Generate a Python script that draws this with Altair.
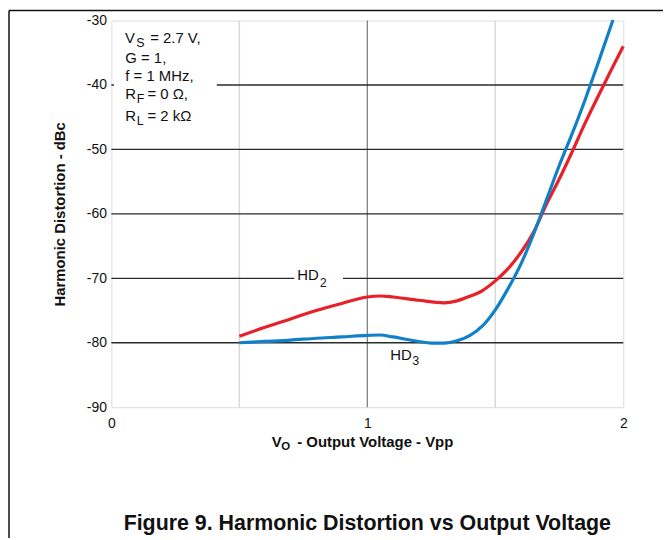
import altair as alt
import pandas as pd

# ---- data ----
hd2_x = [0.5, 0.6, 0.7, 0.8, 0.9, 1.0, 1.05, 1.1, 1.2, 1.3, 1.35, 1.4, 1.45, 1.5,
         1.55, 1.6, 1.65, 1.7, 1.75, 1.8, 1.85, 1.9, 1.95, 2.0]
hd2_y = [-79.0, -77.6, -76.3, -75.0, -73.9, -72.9, -72.75, -72.9, -73.4, -73.8, -73.5,
         -72.8, -71.9, -70.4, -68.5, -66.0, -62.8, -58.5, -54.6, -50.4, -46.0, -41.9,
         -37.9, -34.0]
hd3_x = [0.5, 0.6, 0.7, 0.8, 0.9, 1.0, 1.05, 1.1, 1.2, 1.25, 1.3, 1.35, 1.4, 1.45,
         1.5, 1.55, 1.6, 1.65, 1.7, 1.75, 1.8, 1.85, 1.9, 1.96]
hd3_y = [-80.0, -79.8, -79.6, -79.3, -79.1, -78.85, -78.8, -79.1, -79.8, -80.05, -80.05,
         -79.7, -78.9, -77.4, -74.9, -71.6, -67.8, -63.1, -57.8, -52.5, -47.6, -42.4,
         -36.8, -29.9]

y_ticks = [-90, -80, -70, -60, -50, -40, -30]
x_ticks = [0, 1, 2]
h_grid = [-40, -50, -60, -70, -80]
v_grid_light = [0.5, 1.5]
v_grid_dark = [1.0]

# text annotations (data coordinates)
ann_text = ["V", "S", "= 2.7 V,", "G = 1,", "f = 1 MHz,", "R", "F", "= 0 \u03a9,",
            "R", "L", "= 2 k\u03a9",
            "HD", "2", "HD", "3",
            "V", "O", "- Output Voltage - Vpp",
            "Figure 9. Harmonic Distortion vs Output Voltage"]
ann_x = [0.0532, 0.0975, 0.1515, 0.0544, 0.0544, 0.0544, 0.0990, 0.1410,
         0.0544, 0.0990, 0.1410,
         0.7262, 0.8155, 1.0901, 1.1767,
         0.6264, 0.6641, 0.7262,
         1.0]
ann_y = [-32.73, -33.45, -32.73, -35.82, -38.64, -41.46, -42.19, -41.46,
         -44.81, -45.59, -44.81,
         -69.49, -70.72, -81.90, -82.86,
         -95.40, -96.17, -95.40,
         -108.2]
ann_size = [15, 12.5, 15, 15, 15, 15, 12.5, 15, 15, 12.5, 15,
            15, 12, 15, 12,
            15, 11.5, 15,
            21.5]
ann_kind = ["n"] * 15 + ["b", "b", "b", "c"]

FONT = "Liberation Sans"
RED = "#E8202A"
BLUE = "#1080C8"

curves = pd.concat([
    pd.DataFrame({"v": hd2_x, "d": hd2_y, "s": "HD2"}),
    pd.DataFrame({"v": hd3_x, "d": hd3_y, "s": "HD3"}),
])
ann = pd.DataFrame({"t": ann_text, "x": ann_x, "y": ann_y, "size": ann_size,
                    "k": ann_kind})

xs = alt.Scale(domain=[0, 2], nice=False, zero=False)
ys = alt.Scale(domain=[-90, -30], nice=False, zero=False)

base_x = alt.X("v:Q", scale=xs,
               axis=alt.Axis(values=x_ticks, title=None, grid=False, ticks=False,
                             domain=False, labelFontSize=14, labelFont=FONT,
                             labelColor="#111", labelPadding=9, labelFlush=False,
                             labelExpr="'' + datum.value"))
base_y = alt.Y("d:Q", scale=ys,
               axis=alt.Axis(values=y_ticks, title="Harmonic Distortion - dBc",
                             grid=False, ticks=False, domain=False, labelFontSize=14,
                             labelFont=FONT, labelColor="#111", labelPadding=5,
                             labelExpr="'' + datum.value",
                             titleFont=FONT, titleFontSize=15, titleFontWeight="bold",
                             titleColor="#111", titleAngle=-90, titleX=-52,
                             titleY=194.5, titleAlign="center",
                             titleBaseline="middle"))

hgrid = alt.Chart(pd.DataFrame({"d": h_grid})).mark_rule(
    color="#2a2a2a", strokeWidth=1.3).encode(y=alt.Y("d:Q", scale=ys))
vlight = alt.Chart(pd.DataFrame({"v": v_grid_light})).mark_rule(
    color="#d8d8d8", strokeWidth=1.5).encode(x=alt.X("v:Q", scale=xs))
vdark = alt.Chart(pd.DataFrame({"v": v_grid_dark})).mark_rule(
    color="#777777", strokeWidth=1.2).encode(x=alt.X("v:Q", scale=xs))

# white backgrounds behind the annotation box and HD2 label
mask = alt.Chart(pd.DataFrame({"x1": [0.01, 0.715], "x2": [0.412, 0.905],
                               "y1": [-31.0, -68.4], "y2": [-44.0, -71.5]})).mark_rect(
    color="white").encode(x=alt.X("x1:Q", scale=xs), x2="x2:Q",
                          y=alt.Y("y1:Q", scale=ys), y2="y2:Q")

lines = alt.Chart(curves).mark_line(strokeWidth=3.2, interpolate="monotone").encode(
    x=base_x, y=base_y,
    color=alt.Color("s:N", scale=alt.Scale(domain=["HD2", "HD3"], range=[RED, BLUE]),
                    legend=None))


def text_layer(kind, align, weight):
    return alt.Chart(ann).mark_text(font=FONT, baseline="middle", color="#111",
                                    align=align, fontWeight=weight).encode(
        x=alt.X("x:Q", scale=xs), y=alt.Y("y:Q", scale=ys), text="t:N",
        size=alt.Size("size:Q", scale=None),
    ).transform_filter(alt.datum.k == kind)


texts_n = text_layer("n", "left", "normal")
texts_b = text_layer("b", "left", "bold")
texts_c = text_layer("c", "center", "bold")

frame = alt.Chart(pd.DataFrame({"k": [0]})).mark_rule(color="#111", strokeWidth=1.5).encode(
    x=alt.value(-103), x2=alt.value(560), y=alt.value(-10))
frame_l = alt.Chart(pd.DataFrame({"k": [0]})).mark_rule(color="#111", strokeWidth=1.5).encode(
    x=alt.value(-103), y=alt.value(-10), y2=alt.value(530))

chart = alt.layer(vlight, vdark, hgrid, mask, lines, texts_n, texts_b, texts_c,
                  frame, frame_l).properties(
    width=515, height=389,
    autosize=alt.AutoSizeParams(type="none"),
    padding={"left": 104, "top": 11, "right": 40, "bottom": 130},
).configure_view(stroke="#333", strokeWidth=2.6).configure(background="white")

chart.save("out.html", embed_options={"renderer": "svg", "actions": False})
